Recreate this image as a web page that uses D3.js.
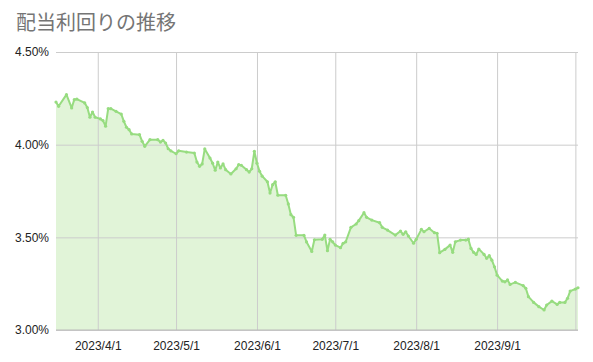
<!DOCTYPE html>
<html><head><meta charset="utf-8">
<script src="https://cdn.jsdelivr.net/npm/d3@7/dist/d3.min.js"></script>
<style>body{margin:0;background:#fff}svg{display:block}</style>
</head><body>
<svg id="c" width="593" height="362"></svg>
<script>
const title = "配当利回りの推移";
const dates = ["2023-03-16","2023-03-17","2023-03-20","2023-03-22","2023-03-23","2023-03-24","2023-03-27","2023-03-28","2023-03-29","2023-03-30","2023-03-31","2023-04-02","2023-04-03","2023-04-04","2023-04-05","2023-04-06","2023-04-08","2023-04-10","2023-04-11","2023-04-12","2023-04-13","2023-04-14","2023-04-17","2023-04-18","2023-04-19","2023-04-21","2023-04-24","2023-04-25","2023-04-26","2023-04-27","2023-04-28","2023-04-29","2023-05-01","2023-05-02","2023-05-05","2023-05-08","2023-05-09","2023-05-10","2023-05-11","2023-05-12","2023-05-14","2023-05-15","2023-05-16","2023-05-17","2023-05-18","2023-05-19","2023-05-20","2023-05-22","2023-05-24","2023-05-25","2023-05-26","2023-05-28","2023-05-29","2023-05-30","2023-05-31","2023-06-01","2023-06-02","2023-06-03","2023-06-05","2023-06-06","2023-06-07","2023-06-08","2023-06-09","2023-06-12","2023-06-13","2023-06-14","2023-06-15","2023-06-16","2023-06-19","2023-06-20","2023-06-22","2023-06-23","2023-06-26","2023-06-27","2023-06-28","2023-06-29","2023-06-30","2023-07-01","2023-07-03","2023-07-04","2023-07-05","2023-07-07","2023-07-09","2023-07-10","2023-07-12","2023-07-13","2023-07-15","2023-07-18","2023-07-19","2023-07-21","2023-07-24","2023-07-26","2023-07-27","2023-07-28","2023-07-29","2023-07-31","2023-08-01","2023-08-03","2023-08-04","2023-08-06","2023-08-08","2023-08-09","2023-08-10","2023-08-12","2023-08-14","2023-08-15","2023-08-16","2023-08-18","2023-08-20","2023-08-21","2023-08-22","2023-08-23","2023-08-24","2023-08-25","2023-08-27","2023-08-28","2023-08-29","2023-08-30","2023-08-31","2023-09-01","2023-09-03","2023-09-04","2023-09-05","2023-09-06","2023-09-08","2023-09-11","2023-09-12","2023-09-13","2023-09-15","2023-09-17","2023-09-19","2023-09-20","2023-09-22","2023-09-24","2023-09-25","2023-09-27","2023-09-28","2023-09-29","2023-10-01","2023-10-02"];
const yields = [4.23,4.207,4.27,4.198,4.243,4.246,4.225,4.20,4.148,4.176,4.148,4.139,4.13,4.10,4.194,4.194,4.18,4.165,4.126,4.094,4.081,4.058,4.054,4.018,3.991,4.027,4.027,4.014,4.023,4.009,3.978,3.967,3.951,3.967,3.96,3.955,3.906,3.883,3.896,3.977,3.928,3.90,3.862,3.906,3.874,3.896,3.865,3.842,3.87,3.892,3.889,3.865,3.852,3.87,3.964,3.90,3.856,3.83,3.80,3.739,3.784,3.80,3.727,3.727,3.68,3.622,3.608,3.511,3.511,3.475,3.424,3.487,3.489,3.512,3.428,3.489,3.476,3.458,3.444,3.468,3.476,3.554,3.572,3.59,3.633,3.608,3.593,3.579,3.554,3.539,3.512,3.534,3.516,3.53,3.507,3.468,3.489,3.543,3.53,3.548,3.525,3.522,3.417,3.435,3.458,3.419,3.476,3.485,3.485,3.49,3.44,3.419,3.408,3.437,3.408,3.387,3.401,3.377,3.341,3.296,3.264,3.26,3.27,3.246,3.257,3.239,3.225,3.18,3.149,3.126,3.108,3.135,3.156,3.138,3.149,3.149,3.171,3.21,3.221,3.228];
const yTicks = [3.0, 3.5, 4.0, 4.5];
const xTickDates = ["2023-04-01","2023-05-01","2023-06-01","2023-07-01","2023-08-01","2023-09-01","2023-10-01"];
const xTickLabels = ["2023/4/1","2023/5/1","2023/6/1","2023/7/1","2023/8/1","2023/9/1",""];

const parse = d3.timeParse("%Y-%m-%d");
const data = dates.map((d,i)=>({date:parse(d), v:yields[i]}));
const L=56, R=578, T=52, B=330;
const x = d3.scaleTime().domain(d3.extent(data,d=>d.date)).range([L,R]);
const y = d3.scaleLinear().domain([3.0,4.5]).range([B,T]);
const svg = d3.select("#c");

svg.append("text").attr("x",16).attr("y",30).text(title)
  .attr("font-family","'Noto Sans CJK JP','Noto Sans',sans-serif").attr("font-size",20)
  .attr("fill","#757575");

// area first
const area = d3.area().x(d=>x(d.date)).y0(y(3.0)).y1(d=>y(d.v));
svg.append("path").datum(data).attr("d",area).attr("fill","#9ad97f").attr("fill-opacity",0.3);

// gridlines
const yAxis = d3.axisLeft(y).tickValues(yTicks).tickSize(-(R-L)).tickFormat(d=>d3.format(".2f")(d)+"%");
const gy = svg.append("g").attr("transform",`translate(${L},0)`).call(yAxis);
gy.select(".domain").remove();
gy.selectAll("line").attr("stroke","#cccccc").attr("stroke-width",1);
gy.selectAll("text").attr("x",-7).attr("font-family","Arial,'Liberation Sans',sans-serif").attr("font-size",12).attr("fill","#222");

const xAxis = d3.axisBottom(x).tickValues(xTickDates.map(parse)).tickSize(-(B-T))
  .tickFormat((d,i)=>xTickLabels[i]);
const gx = svg.append("g").attr("transform",`translate(0,${B})`).call(xAxis);
gx.select(".domain").remove();
gx.selectAll("line").attr("stroke","#cccccc").attr("stroke-width",1);
gx.selectAll("text").attr("y",11).attr("font-family","Arial,'Liberation Sans',sans-serif").attr("font-size",12).attr("fill","#222");

// baseline
svg.append("line").attr("x1",L).attr("x2",R).attr("y1",y(3.0)).attr("y2",y(3.0)).attr("stroke","#bbbbbb");

const line = d3.line().x(d=>x(d.date)).y(d=>y(d.v));
svg.append("path").datum(data).attr("d",line).attr("fill","none").attr("stroke","#97dc80").attr("stroke-width",2).attr("stroke-linejoin","round");
svg.append("g").selectAll("circle").data(data).join("circle")
  .attr("cx",d=>x(d.date)).attr("cy",d=>y(d.v)).attr("r",1.6).attr("fill","#97dc80");
</script>
</body></html>
